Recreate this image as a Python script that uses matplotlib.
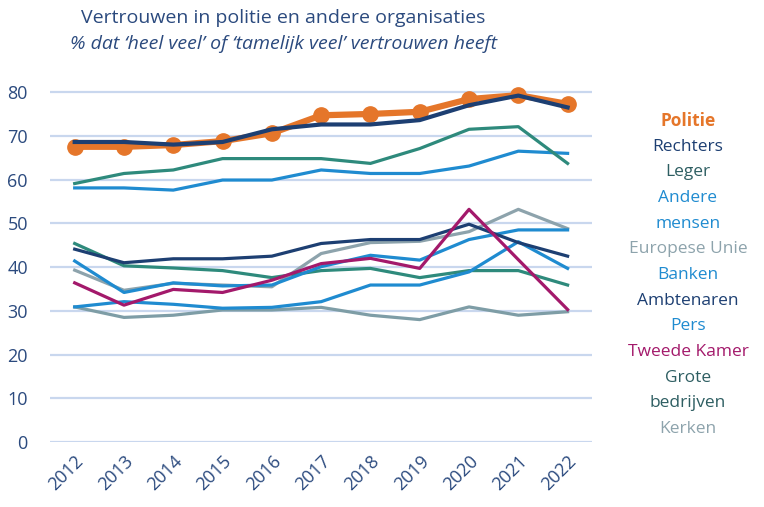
import numpy as np
import matplotlib.pyplot as plt

plt.rcParams["font.family"] = ["Open Sans", "DejaVu Sans"]

years = list(range(2012, 2023))

politie = [67.5, 67.5, 67.9, 68.8, 70.6, 74.7, 75.0, 75.5, 78.4, 79.3, 77.3]
rechters = [68.6, 68.6, 68.0, 68.6, 71.5, 72.6, 72.6, 73.6, 77.0, 79.2, 76.5]
leger = [59.1, 61.4, 62.2, 64.8, 64.8, 64.8, 63.7, 67.1, 71.5, 72.1, 63.7]
andere_mensen = [58.1, 58.1, 57.6, 59.9, 59.9, 62.2, 61.4, 61.4, 63.1, 66.5, 66.0]
europese_unie = [39.3, 34.7, 36.3, 35.9, 35.5, 43.1, 45.6, 45.9, 48.1, 53.2, 48.8]
banken = [41.4, 34.2, 36.4, 35.7, 35.9, 40.1, 42.7, 41.6, 46.3, 48.5, 48.5]
ambtenaren = [44.1, 41.0, 41.9, 41.9, 42.5, 45.4, 46.3, 46.3, 49.8, 45.6, 42.5]
pers = [30.9, 32.1, 31.5, 30.6, 30.8, 32.1, 35.9, 35.9, 38.9, 45.8, 39.7]
tweede_kamer = [36.4, 31.3, 34.9, 34.2, 37.0, 40.8, 42.0, 39.7, 53.2, 41.7, 30.3]
grote_bedrijven = [45.4, 40.3, 39.8, 39.2, 37.6, 39.2, 39.7, 37.6, 39.2, 39.2, 35.9]
kerken = [30.9, 28.5, 29.0, 30.2, 30.2, 30.8, 29.0, 28.0, 30.9, 29.0, 29.8]

navy = "#1D3F72"
orange = "#E5762A"
teal = "#2E8A7C"
blue = "#1F8BD0"
grey = "#8DA3AC"
grey2 = "#7E9DA6"
magenta = "#A3196B"
text_col = "#2B4A7E"

fig = plt.figure(figsize=(7.64, 5.07), dpi=100)
ax = fig.add_axes([0.0655, 0.128, 0.7097, 0.7076])

# drawn back to front
ax.plot(years, kerken, color=grey2, lw=2.3)
ax.plot(years, grote_bedrijven, color=teal, lw=2.3)
ax.plot(years, pers, color=blue, lw=2.3)
ax.plot(years, europese_unie, color=grey, lw=2.3)
ax.plot(years, banken, color=blue, lw=2.3)
ax.plot(years, ambtenaren, color=navy, lw=2.3)
ax.plot(years, tweede_kamer, color=magenta, lw=2.3)
ax.plot(years, andere_mensen, color=blue, lw=2.3)
ax.plot(years, leger, color=teal, lw=2.3)
ax.plot(years, politie, color=orange, lw=4.5, marker="o", ms=11, clip_on=False)
ax.plot(years, rechters, color=navy, lw=3)

ax.set_xlim(2011.5, 2022.5)
ax.set_ylim(0, 82)
ax.set_yticks(range(0, 81, 10))
ax.set_xticks(years)
ax.set_xticklabels([str(y) for y in years], rotation=45, ha="right",
                   rotation_mode="anchor")
ax.tick_params(length=0, labelsize=13, labelcolor=text_col)
ax.tick_params(axis="y", pad=16)
ax.tick_params(axis="x", pad=7)
ax.grid(axis="y", color="#C9D7EE", lw=1.6)
ax.set_axisbelow(True)
for s in ax.spines.values():
    s.set_visible(False)

fig.text(0.371, 0.965, "Vertrouwen in politie en andere organisaties",
         ha="center", va="center", fontsize=14, color=text_col)
fig.text(0.371, 0.913, "% dat \u2018heel veel\u2019 of \u2018tamelijk veel\u2019 vertrouwen heeft",
         ha="center", va="center", fontsize=14, color=text_col, style="italic")

labels = [("Politie", orange, "bold"), ("Rechters", navy, "normal"),
          ("Leger", "#2E5E62", "normal"), ("Andere", blue, "normal"),
          ("mensen", blue, "normal"), ("Europese Unie", grey, "normal"),
          ("Banken", blue, "normal"), ("Ambtenaren", navy, "normal"),
          ("Pers", blue, "normal"), ("Tweede Kamer", magenta, "normal"),
          ("Grote", "#2E5E62", "normal"), ("bedrijven", "#2E5E62", "normal"),
          ("Kerken", grey, "normal")]
y0 = 121
for i, (t, c, w) in enumerate(labels):
    py = y0 + i * 25.65
    fig.text(688 / 764, 1 - py / 507, t, ha="center", va="center",
             fontsize=12.5, color=c, fontweight=w)

fig.savefig("out.png", dpi=100)
